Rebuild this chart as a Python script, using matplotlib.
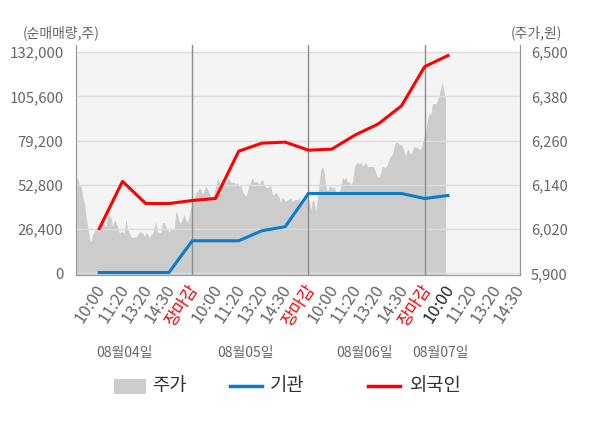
import numpy as np
import matplotlib.pyplot as plt
import matplotlib.transforms as mtransforms
from matplotlib.patches import Rectangle
from matplotlib.lines import Line2D

plt.rcParams['font.family'] = ['Noto Sans CJK KR', 'DejaVu Sans']

# x tick labels (one slot each), dates under them
slot_labels = ['10:00', '11:20', '13:20', '14:30', '장마감'] * 3 + ['10:00', '11:20', '13:20', '14:30']
dates = ['08월04일', '08월05일', '08월06일', '08월07일']

# net buying volume (shares) at slots 1..16
foreign = [26700, 54900, 41700, 41700, 43500, 44700, 72900, 77700, 78300,
           73500, 74100, 82500, 89100, 99900, 123300, 129900]
inst = [600, 600, 600, 600, 19500, 19500, 19500, 25500, 27900,
        47700, 47700, 47700, 47700, 47700, 44700, 46500]

price = [
    6160, 6155, 6141, 6136, 6109, 6092, 6054, 6027, 5997, 5986, 6005, 6013, 6024, 6019, 6013,
    6027, 6046, 6032, 6027, 6060, 6060, 6051, 6027, 6046, 6038, 6027, 6010, 6013, 6013, 6010,
    6046, 6019, 6010, 6000, 5997, 6000, 5997, 6005, 6013, 6013, 6010, 6000, 6010, 6005, 5997,
    6005, 6010, 6027, 6040, 6013, 6010, 6013, 6038, 6038, 6027, 6019, 6013, 6019, 6024, 6019,
    6068, 6060, 6040, 6038, 6051, 6060, 6046, 6040, 6054, 6079, 6100, 6106, 6120, 6122, 6133,
    6128, 6114, 6128, 6136, 6128, 6120, 6109, 6109, 6120, 6136, 6160, 6147, 6141, 6136, 6150,
    6141, 6155, 6155, 6147, 6147, 6147, 6141, 6147, 6136, 6141, 6122, 6114, 6109, 6122, 6141,
    6150, 6160, 6147, 6150, 6147, 6141, 6150, 6155, 6141, 6133, 6133, 6136, 6136,
    6114, 6114, 6120, 6114, 6106, 6092, 6106, 6100, 6095, 6100, 6100, 6106, 6095, 6100, 6100,
    6100, 6106, 6092, 6095, 6106, 6109, 6120, 6095, 6073, 6100, 6095, 6068, 6106, 6141, 6182,
    6190, 6174, 6136, 6122, 6136, 6136, 6133, 6136, 6122, 6120, 6120, 6133, 6160, 6155, 6160,
    6147, 6150, 6141, 6147, 6182, 6196, 6201, 6196, 6201, 6190, 6196, 6201,
    6190, 6190, 6190, 6190, 6188, 6174, 6163, 6160, 6174, 6190, 6188, 6188, 6196, 6210, 6218,
    6223, 6242, 6256, 6256, 6250, 6250, 6245, 6231, 6218, 6237, 6231, 6223, 6231, 6245, 6242,
    6242, 6237, 6237, 6250, 6270, 6286, 6313, 6338, 6327, 6360, 6360, 6360, 6368, 6381, 6400,
    6420, 6392, 6368,
]

red = '#ff0000'
blue = '#0a7cc8'
grey_txt = '#666666'

fig = plt.figure(figsize=(6, 4.28), dpi=100)
ax2 = fig.add_axes([76 / 600, 1 - 275 / 428, 444 / 600, 230 / 428])
ax = ax2.twinx()
# left axis (lines) drawn on top of the price area
ax2.yaxis.tick_right()
ax.yaxis.tick_left()
ax.set_zorder(ax2.get_zorder() + 1)
ax.patch.set_visible(False)

# price area
ax2.set_ylim(5896, 6519)
ax2.axhspan(5900, 6500, color='#f4f4f4', lw=0, zorder=0)
xp = np.linspace(0, 15.9, len(price))
ax2.fill_between(xp, 5896, price, color='#cccccc', lw=0, zorder=1)
pt = np.arange(5900, 6501, 120)
ax2.set_yticks(pt)
ax2.set_yticklabels([f'{v:,}' for v in pt])

# volume lines
ax.set_ylim(-900, 136200)
yt = np.arange(0, 132001, 26400)
ax.set_yticks(yt)
ax.set_yticklabels([f'{v:,}' for v in yt])
ax.grid(axis='y', color='#dcdcdc', lw=1)
ax.set_axisbelow(True)
for d in [5, 10, 15]:
    ax.axvline(d, color='#8c8c8c', lw=1, zorder=2)
xs = np.arange(1, len(foreign) + 1)
ax.plot(xs, foreign, color=red, lw=2.2, zorder=4)
ax.plot(xs, inst, color=blue, lw=2.2, zorder=3)

ax.set_xlim(0, 19.1)
ax2.set_xlim(0, 19.1)
ax.set_xticks([0, 5, 10, 15, 19.1])
ax.set_xticklabels([])
ax.tick_params(axis='x', length=4, color='#999999')
ax2.tick_params(axis='x', bottom=False, labelbottom=False)

# rotated slot labels
trans = mtransforms.blended_transform_factory(ax.transData, ax.transAxes)
for k, lab in enumerate(slot_labels):
    if lab == '장마감':
        c = red
    elif k == 15:
        c = '#222222'
    else:
        c = grey_txt
    ax.text(k + 1.12, -0.05, lab, transform=trans, rotation=57, ha='right', va='center',
            rotation_mode='anchor', fontsize=12, color=c)

ax.tick_params(axis='y', length=0, pad=9, labelsize=10.8, labelcolor=grey_txt)
ax2.tick_params(axis='y', length=0, pad=8, labelsize=10.5, labelcolor=grey_txt)

for a in (ax, ax2):
    a.spines['top'].set_visible(False)
    for s in ['left', 'right', 'bottom']:
        a.spines[s].set_color('#999999')

fig.text(23 / 600, 1 - 33 / 428, '(순매매량,주)', fontsize=10, color=grey_txt, va='center')
fig.text(562 / 600, 1 - 33 / 428, '(주가,원)', fontsize=10, color=grey_txt, va='center', ha='right')

for xpix, d in zip([124.5, 245, 365, 440], dates):
    fig.text(xpix / 600, 1 - 353 / 428, d, fontsize=10, color=grey_txt, ha='center', va='center')

# legend
ly = 1 - 386 / 428
fig.add_artist(Rectangle((114 / 600, ly - 7.5 / 428), 32 / 600, 15 / 428,
                         transform=fig.transFigure, color='#cccccc', lw=0))
fig.text(152 / 600, ly, '주가', fontsize=13.5, color='#333333', va='center')
fig.add_artist(Line2D([230 / 600, 262 / 600], [ly, ly], color=blue, lw=2.5, transform=fig.transFigure))
fig.text(270 / 600, ly, '기관', fontsize=13.5, color='#333333', va='center')
fig.add_artist(Line2D([368 / 600, 400 / 600], [ly, ly], color=red, lw=2.5, transform=fig.transFigure))
fig.text(410 / 600, ly, '외국인', fontsize=13.5, color='#333333', va='center')

fig.savefig('out.png', dpi=100)
